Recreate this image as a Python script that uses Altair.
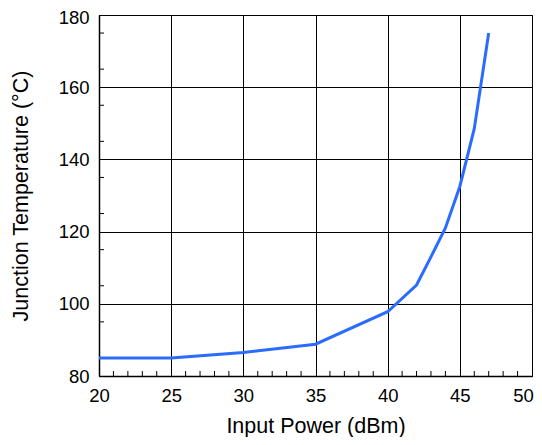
import altair as alt
import pandas as pd

power_dbm = [20, 25, 30, 35, 40, 42, 43, 44, 45, 46, 47]
junction_temp = [85.0, 85.0, 86.5, 88.8, 97.8, 105.2, 113.0, 121.0, 132.5, 148.5, 175.0]

x_minor = [v for v in range(21, 50) if v % 5 != 0]
y_minor = [v for v in range(85, 180, 10)]

W, H = 433, 361
FONT = "Liberation Sans"

df = pd.DataFrame({"p": power_dbm, "t": junction_temp})
dfx = pd.DataFrame({"v": x_minor})
dfy = pd.DataFrame({"v": y_minor})

xscale = alt.Scale(domain=[20, 50], nice=False, zero=False)
yscale = alt.Scale(domain=[80, 180], nice=False, zero=False)

line = alt.Chart(df).mark_line(color="#2a6cff", strokeWidth=3).encode(
    x=alt.X("p:Q", scale=xscale, title="Input Power (dBm)",
            axis=alt.Axis(values=[20, 25, 30, 35, 40, 45, 50], grid=True, gridColor="black",
                          gridOpacity=1, gridWidth=1, domainColor="black", domainWidth=1.5,
                          ticks=False, labelPadding=10, labelFontSize=18.5, labelColor="black",
                          labelFlush=False, labelOffset={"expr": "datum.value === 50 ? -9 : 0"},
                          labelFont=FONT, titleFont=FONT, titleFontSize=21.5,
                          titleFontWeight="normal", titleColor="black", titlePadding=11)),
    y=alt.Y("t:Q", scale=yscale, title="Junction Temperature (°C)",
            axis=alt.Axis(values=[80, 100, 120, 140, 160, 180], grid=True, gridColor="black",
                          gridOpacity=1, gridWidth=1, domainColor="black", domainWidth=1.5,
                          ticks=False, labelPadding=10, labelFontSize=18.5, labelColor="black",
                          labelFlush=False, labelOffset={"expr": "datum.value === 180 ? 2 : 0"},
                          labelFont=FONT, titleFont=FONT, titleFontSize=21.5,
                          titleFontWeight="normal", titleColor="black", titlePadding=26)),
)

xticks = alt.Chart(dfx).mark_rule(color="black", strokeWidth=1).encode(
    x=alt.X("v:Q", scale=xscale),
    y=alt.value(H), y2=alt.value(H - 5),
)
yticks = alt.Chart(dfy).mark_rule(color="black", strokeWidth=1).encode(
    y=alt.Y("v:Q", scale=yscale),
    x=alt.value(0), x2=alt.value(5),
)

chart = alt.layer(xticks, yticks, line).properties(
    width=W, height=H,
    autosize=alt.AutoSizeParams(type="none"),
    padding={"left": 91, "top": 7, "right": 2, "bottom": 61},
).configure_view(stroke="black", strokeWidth=1)

chart.save("out.html", embed_options={"renderer": "svg", "actions": False})
